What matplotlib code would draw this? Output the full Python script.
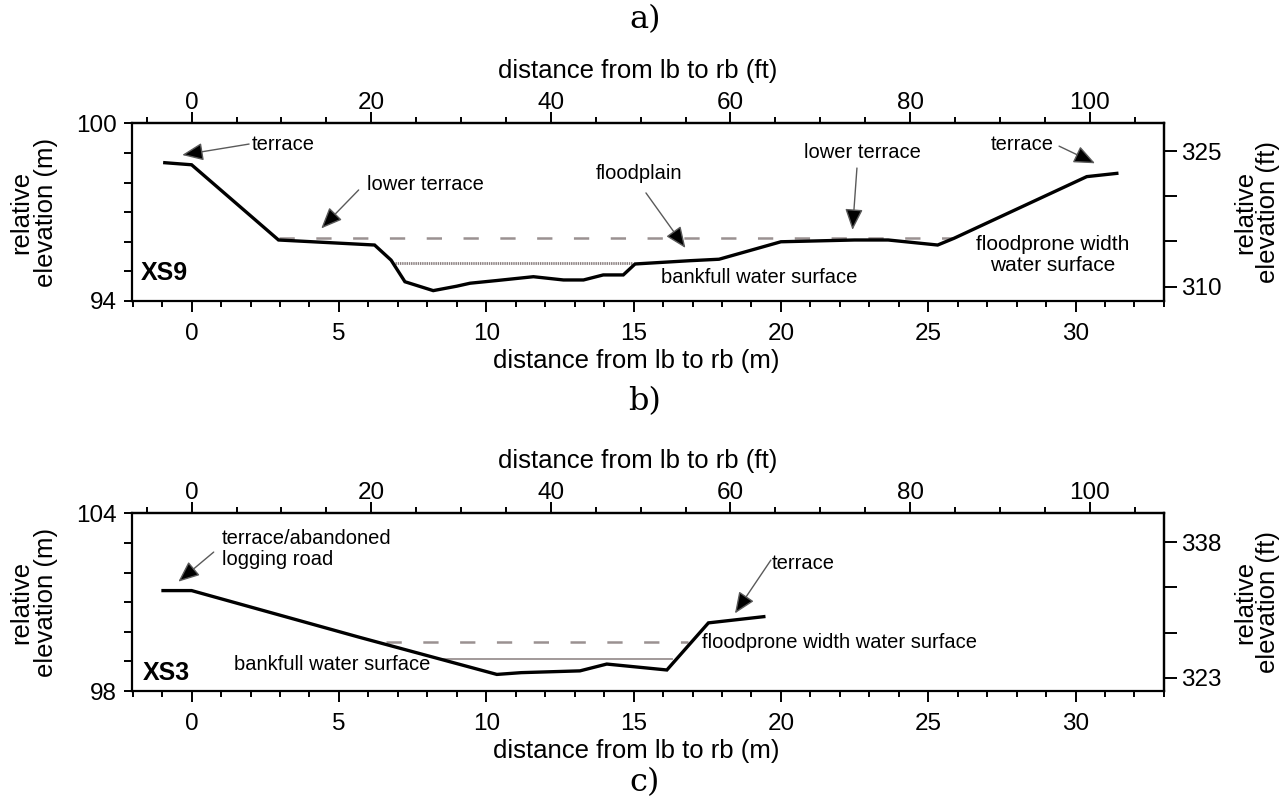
import matplotlib.pyplot as plt
from matplotlib.ticker import MultipleLocator, FixedLocator, FuncFormatter

plt.rcParams['font.family'] = ['Liberation Sans', 'DejaVu Sans']
plt.rcParams['lines.scale_dashes'] = False

M_TO_FT = 3.28084

# XS9 surveyed cross-section: distance from left bank (m), relative elevation (m)
xs9_dist = [-0.91, 0.0, 2.95, 6.21, 6.77, 7.24, 8.2, 9.0, 9.45, 10.35, 11.6, 12.62,
            13.3, 13.97, 14.65, 15.05, 16.9, 17.9, 20.0, 22.5, 23.64, 25.32, 25.88,
            30.38, 31.4]
xs9_elev = [98.67, 98.60, 96.06, 95.89, 95.38, 94.65, 94.35, 94.50, 94.60, 94.69,
            94.82, 94.71, 94.71, 94.88, 94.88, 95.25, 95.36, 95.41, 96.0, 96.06,
            96.06, 95.89, 96.12, 98.20, 98.31]
xs9_floodprone = 96.12
xs9_floodprone_span = [2.95, 25.85]
xs9_bankfull = 95.27
xs9_bankfull_span = [6.9, 14.94]

# XS3 surveyed cross-section
xs3_dist = [-0.97, 0.0, 5.71, 10.36, 11.19, 13.18, 14.09, 16.13, 17.54, 19.42]
xs3_elev = [101.39, 101.39, 99.81, 98.56, 98.62, 98.68, 98.91, 98.71, 100.30, 100.51]
xs3_floodprone = 99.64
xs3_floodprone_span = [6.6, 16.85]
xs3_bankfull = 99.07
xs3_bankfull_span = [8.5, 16.3]

ft_major = [0, 20, 40, 60, 80, 100]
ft_minor = list(range(-5, 110, 5))

dist_label_m = 'distance from lb to rb (m)'
dist_label_ft = 'distance from lb to rb (ft)'

TICK = 17.5
LABEL = 18.5
NOTE = 14.5


def setup(ax, ylo, yhi, ft_ticks, ft_labels):
    ax.set_xlim(-2.03, 33.0)
    ax.set_ylim(ylo, yhi)
    for s in ax.spines.values():
        s.set_linewidth(1.6)
    ax.xaxis.set_major_locator(FixedLocator(range(0, 35, 5)))
    ax.xaxis.set_minor_locator(FixedLocator(range(-2, 34)))
    ax.yaxis.set_major_locator(FixedLocator(range(ylo, yhi + 1)))
    ax.yaxis.set_major_formatter(FuncFormatter(
        lambda v, p: '%d' % round(v) if min(abs(v - ylo), abs(v - yhi)) < 1e-6 else ''))
    ax.tick_params(axis='x', which='major', direction='out', length=8, width=1.4,
                   labelsize=TICK, pad=8)
    ax.tick_params(axis='x', which='minor', direction='out', length=4, width=1.4)
    ax.tick_params(axis='y', direction='out', length=6, width=1.4, labelsize=TICK, pad=5)
    ax.set_xlabel(dist_label_m, fontsize=LABEL)
    ax.xaxis.label.set_va('center')
    ax.xaxis.set_label_coords(0.489, -0.335)
    ax.set_ylabel('relative\nelevation (m)', fontsize=LABEL, linespacing=1.05)
    ax.yaxis.label.set_va('center')
    ax.yaxis.set_label_coords(-0.095, 0.5)

    top = ax.secondary_xaxis('top', functions=(lambda m: m * M_TO_FT, lambda f: f / M_TO_FT))
    top.spines['top'].set_linewidth(1.6)
    top.xaxis.set_major_locator(FixedLocator(ft_major))
    top.xaxis.set_minor_locator(FixedLocator(ft_minor))
    top.tick_params(axis='x', which='major', direction='out', length=8, width=1.4,
                    labelsize=TICK, pad=-1)
    top.tick_params(axis='x', which='minor', direction='out', length=4, width=1.4)
    ax.text(0.49, 1.295, dist_label_ft, fontsize=LABEL, ha='center', va='center',
            transform=ax.transAxes)

    right = ax.secondary_yaxis('right', functions=(lambda m: m * M_TO_FT, lambda f: f / M_TO_FT))
    right.spines['right'].set_linewidth(1.6)
    right.yaxis.set_major_locator(FixedLocator(ft_ticks))
    right.yaxis.set_major_formatter(FuncFormatter(
        lambda v, p: '%d' % round(v) if round(v) in ft_labels else ''))
    right.tick_params(axis='y', direction='out', length=9, width=1.4, labelsize=TICK, pad=3)
    ax.text(1.090, 0.5, 'relative\nelevation (ft)', fontsize=LABEL, rotation=90,
            ha='center', va='center', multialignment='center', linespacing=0.95,
            transform=ax.transAxes)


def pointer(ax, start, tip):
    # thin grey leader ending in a solid black head
    ax.annotate('', xy=tip, xytext=start,
                arrowprops=dict(arrowstyle='-|>,head_length=1.3,head_width=0.55',
                                mutation_scale=10, facecolor='black', edgecolor='#5a5a5a',
                                lw=1.0, shrinkA=0, shrinkB=0))


def profile(ax, dist, elev, fp, fp_span, bf, bf_span, bf_style):
    ax.plot(fp_span, [fp, fp], color='#9a9191', lw=1.8, dashes=(11, 15.5), zorder=2)
    ax.plot(bf_span, [bf, bf], zorder=2, **bf_style)
    ax.plot(dist, elev, color='black', lw=2.4, solid_joinstyle='miter', zorder=3)


fig = plt.figure(figsize=(12.87, 8.05), dpi=100)
ax1 = fig.add_axes([0.1024, 0.6261, 0.802, 0.2207])
ax2 = fig.add_axes([0.1024, 0.1416, 0.802, 0.2208])

# ---- XS9 ----
setup(ax1, 94, 100, [310, 315, 320, 325], (310, 325))
profile(ax1, xs9_dist, xs9_elev, xs9_floodprone, xs9_floodprone_span,
        xs9_bankfull, xs9_bankfull_span,
        dict(color='#8a7f7f', lw=2.0, linestyle=(0, (1, 0.6))))
ax1.text(2.03, 99.27, 'terrace', fontsize=NOTE, ha='left', va='center')
pointer(ax1, (1.95, 99.3), (-0.32, 98.93))
ax1.text(5.96, 97.95, 'lower terrace', fontsize=NOTE, ha='left', va='center')
pointer(ax1, (5.67, 97.75), (4.40, 96.45))
ax1.text(15.19, 98.32, 'floodplain', fontsize=NOTE, ha='center', va='center')
pointer(ax1, (15.42, 97.65), (16.76, 95.79))
ax1.text(22.75, 99.03, 'lower terrace', fontsize=NOTE, ha='center', va='center')
pointer(ax1, (22.58, 98.49), (22.43, 96.40))
ax1.text(27.13, 99.27, 'terrace', fontsize=NOTE, ha='left', va='center')
pointer(ax1, (29.44, 99.23), (30.66, 98.65))
ax1.text(29.23, 95.55, 'floodprone width\nwater surface', fontsize=15,
         ha='center', va='center', linespacing=1.15)
ax1.text(15.93, 94.78, 'bankfull water surface', fontsize=NOTE, ha='left', va='center')
ax1.text(-1.71, 94.95, 'XS9', fontsize=18, fontweight='bold', ha='left', va='center')

# ---- XS3 ----
setup(ax2, 98, 104, [323, 328, 333, 338], (323, 338))
profile(ax2, xs3_dist, xs3_elev, xs3_floodprone, xs3_floodprone_span,
        xs3_bankfull, xs3_bankfull_span, dict(color='#9a9191', lw=1.3, linestyle='-'))
ax2.text(1.04, 102.79, 'terrace/abandoned\nlogging road', fontsize=NOTE,
         ha='left', va='center', linespacing=1.1)
pointer(ax2, (0.75, 102.69), (-0.45, 101.69))
ax2.text(19.7, 102.32, 'terrace', fontsize=NOTE, ha='left', va='center')
pointer(ax2, (19.66, 102.42), (18.44, 100.62))
ax2.text(17.32, 99.65, 'floodprone width water surface', fontsize=NOTE, ha='left', va='center')
ax2.text(1.44, 98.88, 'bankfull water surface', fontsize=NOTE, ha='left', va='center')
ax2.text(-1.64, 98.61, 'XS3', fontsize=18, fontweight='bold', ha='left', va='center')

for lab, ypx in (('a)', 20), ('b)', 402), ('c)', 783)):
    fig.text(645 / 1287, 1 - ypx / 805, lab, family='DejaVu Serif', fontsize=23,
             ha='center', va='center')

fig.savefig('out.png', dpi=100)
